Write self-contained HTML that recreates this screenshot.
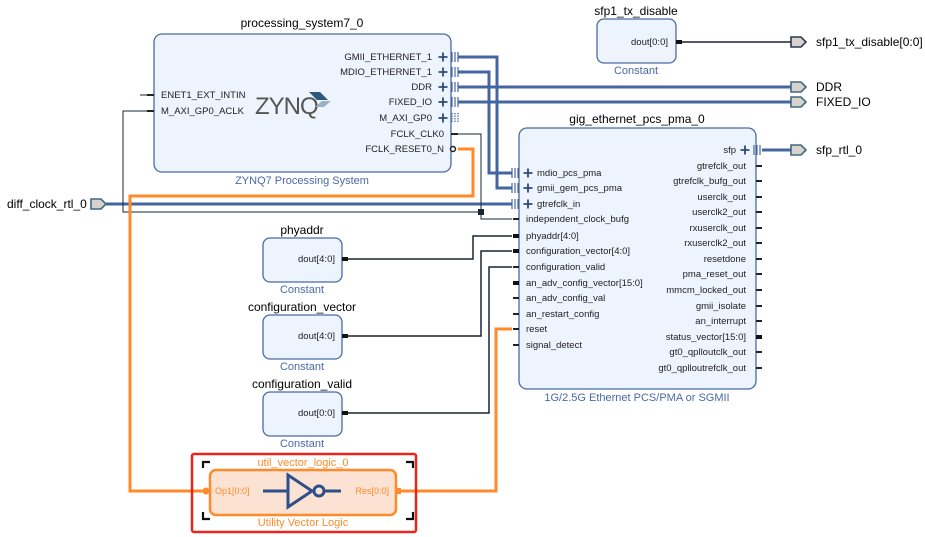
<!DOCTYPE html>
<html><head><meta charset="utf-8"><style>
html,body{margin:0;padding:0;background:#fff;}
svg{display:block;}
text{font-family:"Liberation Sans",sans-serif;}
.t{font-size:12px;fill:#000;}
.p{font-size:9.5px;fill:#222;}
.s{font-size:11px;fill:#4a68a8;}
.blk{fill:#edf4fd;stroke:#4a6aa5;stroke-width:1.3;}
.bus{stroke:#4466a0;stroke-width:3;fill:none;}
.w{stroke:#1a2433;stroke-width:1.5;fill:none;}
.wt{stroke:#1a2433;stroke-width:1;fill:none;}
.or{stroke:#ff8a2a;stroke-width:3;fill:none;}
.port{fill:#d9d2cc;stroke:#3d6a80;stroke-width:1.6;}
.pl{stroke:#2a4a80;stroke-width:1.8;}
</style></head><body>
<svg width="925" height="537" viewBox="0 0 925 537" xmlns="http://www.w3.org/2000/svg">
<defs>
<g id="plus"><path d="M-4.5 0H4.5M0 -4.5V4.5" class="pl"/></g>
<g id="bc"><path d="M0 -5V5M3 -5V5M6 -5V5" stroke="#4466a0" stroke-width="1.2"/></g>
<path id="op" d="M0 -5H10L15 0L10 5H0Z"/>
</defs>

<!-- wires -->
<path class="bus" d="M458 57H497V188H512"/>
<path class="bus" d="M458 72H489V173H512"/>
<path class="bus" d="M458 87H791"/>
<path class="bus" d="M458 102H791"/>
<path class="bus" d="M106 204H512"/>
<path class="bus" d="M762 150H791"/>
<path class="wt" d="M452 134H481V219H512"/>
<path class="wt" d="M154 111H123V212H481"/>
<path class="wt" d="M140 95H147"/>
<rect x="478" y="209" width="6" height="6" fill="#1a2433"/>
<path class="w" d="M681 42H791"/>
<path class="w" d="M345 259H473V236H512"/>
<path class="w" d="M345 336H481V251H512"/>
<path class="w" d="M345 413H489V267H512"/>
<path class="or" d="M458 149H473V196H130V491H205"/>
<path class="or" d="M400 491H496V329H512"/>

<!-- PS7 -->
<text class="t" x="302" y="27" text-anchor="middle">processing_system7_0</text>
<rect class="blk" x="154" y="34" width="297" height="138" rx="8"/>
<text class="s" x="302" y="184" text-anchor="middle">ZYNQ7 Processing System</text>
<text x="255" y="114" font-size="24" fill="#555" letter-spacing="-1">ZYNQ</text>
<path d="M309 92L320 92L328 100L317 100Z" fill="#2d5a7a"/>
<path d="M322 101L331 101L324 107L315 107Z" fill="#9ab0c8"/>
<g class="p">
<text x="161" y="98">ENET1_EXT_INTIN</text>
<text x="161" y="114">M_AXI_GP0_ACLK</text>
<text x="432" y="60" text-anchor="end">GMII_ETHERNET_1</text>
<text x="432" y="75" text-anchor="end">MDIO_ETHERNET_1</text>
<text x="432" y="90" text-anchor="end">DDR</text>
<text x="432" y="105" text-anchor="end">FIXED_IO</text>
<text x="432" y="121" text-anchor="end">M_AXI_GP0</text>
<text x="444" y="137" text-anchor="end">FCLK_CLK0</text>
<text x="444" y="152" text-anchor="end">FCLK_RESET0_N</text>
</g>
<use href="#plus" x="443" y="57"/><use href="#plus" x="443" y="72"/><use href="#plus" x="443" y="87"/><use href="#plus" x="443" y="102"/><use href="#plus" x="443" y="118"/>
<use href="#bc" x="452" y="57"/><use href="#bc" x="452" y="72"/><use href="#bc" x="452" y="87"/><use href="#bc" x="452" y="102"/>
<path d="M452 113V123M455 113V123M458 113V123" stroke="#4466a0" stroke-width="1.2" stroke-dasharray="1.5 1"/>
<path d="M147 95H154M147 111H154M451 134H458" stroke="#222" stroke-width="2"/>
<circle cx="453" cy="149" r="2.5" fill="#fff" stroke="#222" stroke-width="1.5"/>

<!-- sfp1_tx_disable -->
<text class="t" x="636" y="15" text-anchor="middle">sfp1_tx_disable</text>
<rect class="blk" x="597" y="19" width="79" height="44" rx="7"/>
<text class="p" x="668" y="45" text-anchor="end" font-size="8.5">dout[0:0]</text>
<rect x="676" y="40" width="6" height="4" fill="#111"/>
<text class="s" x="636" y="74" text-anchor="middle">Constant</text>

<!-- output ports -->
<use href="#op" class="port" x="791" y="42" style="stroke:#2a3a50"/>
<text class="t" x="816" y="46">sfp1_tx_disable[0:0]</text>
<use href="#op" class="port" x="791" y="87"/><text class="t" x="816" y="91">DDR</text>
<use href="#op" class="port" x="791" y="102"/><text class="t" x="816" y="106">FIXED_IO</text>
<use href="#op" class="port" x="791" y="150"/><text class="t" x="816" y="154">sfp_rtl_0</text>
<use href="#op" class="port" x="91" y="204"/><text class="t" x="7" y="208">diff_clock_rtl_0</text>

<!-- gig -->
<text class="t" x="637" y="123" text-anchor="middle">gig_ethernet_pcs_pma_0</text>
<rect class="blk" x="519" y="128" width="237" height="261" rx="8"/>
<text class="s" x="637" y="401" text-anchor="middle">1G/2.5G Ethernet PCS/PMA or SGMII</text>
<use href="#bc" x="512" y="173"/><use href="#bc" x="512" y="188"/><use href="#bc" x="512" y="204"/>
<use href="#plus" x="528" y="173"/><use href="#plus" x="528" y="188"/><use href="#plus" x="528" y="204"/>
<use href="#plus" x="745" y="150"/><use href="#bc" x="754" y="150"/>
<g class="p">
<text x="537" y="176">mdio_pcs_pma</text>
<text x="537" y="191">gmii_gem_pcs_pma</text>
<text x="537" y="207">gtrefclk_in</text>
<text x="526" y="222">independent_clock_bufg</text>
<text x="526" y="239">phyaddr[4:0]</text>
<text x="526" y="254">configuration_vector[4:0]</text>
<text x="526" y="270">configuration_valid</text>
<text x="526" y="286">an_adv_config_vector[15:0]</text>
<text x="526" y="301">an_adv_config_val</text>
<text x="526" y="317">an_restart_config</text>
<text x="526" y="332">reset</text>
<text x="526" y="348">signal_detect</text>
<g text-anchor="end">
<text x="736" y="153">sfp</text>
<text x="746" y="169">gtrefclk_out</text>
<text x="746" y="184">gtrefclk_bufg_out</text>
<text x="746" y="200">userclk_out</text>
<text x="746" y="215">userclk2_out</text>
<text x="746" y="231">rxuserclk_out</text>
<text x="746" y="246">rxuserclk2_out</text>
<text x="746" y="262">resetdone</text>
<text x="746" y="277">pma_reset_out</text>
<text x="746" y="293">mmcm_locked_out</text>
<text x="746" y="309">gmii_isolate</text>
<text x="746" y="324">an_interrupt</text>
<text x="746" y="340">status_vector[15:0]</text>
<text x="746" y="355">gt0_qplloutclk_out</text>
<text x="746" y="371">gt0_qplloutrefclk_out</text>
</g></g>
<g stroke="#222" stroke-width="2">
<path d="M513 219H519M513 267H519M513 298H519M513 314H519M513 329H519M513 345H519"/>
<path d="M756 166H762M756 181H762M756 197H762M756 212H762M756 228H762M756 243H762M756 259H762M756 274H762M756 290H762M756 306H762M756 321H762M756 352H762M756 368H762"/>
</g>
<g fill="#111"><rect x="513" y="234" width="6" height="4"/><rect x="513" y="249" width="6" height="4"/><rect x="513" y="281" width="6" height="4"/><rect x="756" y="335" width="6" height="4"/></g>

<!-- constants -->
<text class="t" x="302" y="234" text-anchor="middle">phyaddr</text>
<rect class="blk" x="263" y="238" width="79" height="44" rx="7"/>
<text class="p" x="335" y="262" text-anchor="end" font-size="8.5">dout[4:0]</text>
<rect x="342" y="257" width="6" height="4" fill="#111"/>
<text class="s" x="302" y="293" text-anchor="middle">Constant</text>

<text class="t" x="302" y="311" text-anchor="middle">configuration_vector</text>
<rect class="blk" x="263" y="315" width="79" height="44" rx="7"/>
<text class="p" x="335" y="339" text-anchor="end" font-size="8.5">dout[4:0]</text>
<rect x="342" y="334" width="6" height="4" fill="#111"/>
<text class="s" x="302" y="370" text-anchor="middle">Constant</text>

<text class="t" x="302" y="388" text-anchor="middle">configuration_valid</text>
<rect class="blk" x="263" y="392" width="79" height="44" rx="7"/>
<text class="p" x="335" y="416" text-anchor="end" font-size="8.5">dout[0:0]</text>
<rect x="342" y="411" width="6" height="4" fill="#111"/>
<text class="s" x="302" y="447" text-anchor="middle">Constant</text>

<!-- util -->
<rect x="192" y="454" width="224" height="78" rx="2" fill="none" stroke="#e8271c" stroke-width="2.5"/>
<text x="303" y="466" text-anchor="middle" font-size="11" fill="#ff8a2a">util_vector_logic_0</text>
<rect x="210" y="470" width="186" height="45" rx="6" fill="#fbe2d2" stroke="#ff8a2a" stroke-width="2.5"/>
<text x="303" y="526" text-anchor="middle" font-size="11" fill="#ff8a2a">Utility Vector Logic</text>
<g stroke="#111" stroke-width="2.2" fill="none">
<path d="M203 468V462H210M406 462H413V468M203 512V519H210M406 519H413V512"/>
</g>
<text x="215" y="494" font-size="9" fill="#ff8a2a">Op1[0:0]</text>
<text x="389" y="494" font-size="9" fill="#ff8a2a" text-anchor="end">Res[0:0]</text>
<circle cx="206" cy="491" r="3.5" fill="#ff8a2a"/>
<rect x="396" y="488" width="5" height="6" fill="#ff8a2a"/>
<g stroke="#2d4f8a" stroke-width="3" fill="none">
<path d="M263 491H288M288 475V507L312 491Z"/>
<circle cx="319" cy="491" r="5"/>
<path d="M324 491H341"/>
</g>
</svg>
</body></html>
